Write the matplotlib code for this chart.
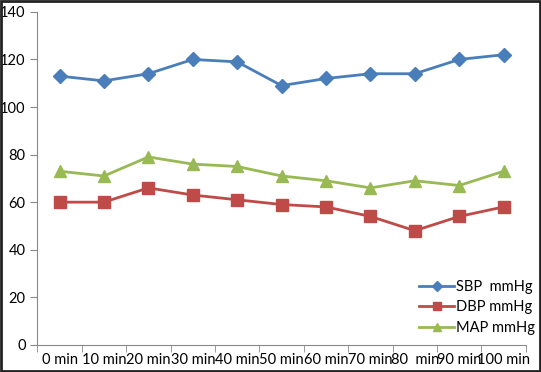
import numpy as np
import matplotlib.pyplot as plt

labels = ["0 min", "10 min", "20 min", "30 min", "40 min", "50 min",
          "60 min", "70 min", "80  min", "90 min", "100 min"]
sbp = [113, 111, 114, 120, 119, 109, 112, 114, 114, 120, 122]
dbp = [60, 60, 66, 63, 61, 59, 58, 54, 48, 54, 58]
mapv = [73, 71, 79, 76, 75, 71, 69, 66, 69, 67, 73]

plt.rcParams['font.family'] = ['Lato', 'DejaVu Sans']

fig = plt.figure(figsize=(5.41, 3.72), dpi=100)
ax = fig.add_axes([0.069, 0.073, 0.903, 0.895])

x = np.arange(len(labels))
ax.plot(x, sbp, color='#4a7ebb', marker='D', markersize=7, linewidth=2, label='SBP  mmHg')
ax.plot(x, dbp, color='#be4b48', marker='s', markersize=8, linewidth=2, label='DBP mmHg')
ax.plot(x, mapv, color='#98b954', marker='^', markersize=8, linewidth=2, label='MAP mmHg')

ax.set_xlim(-0.5, len(labels) - 0.5)
ax.set_ylim(0, 140)
ax.set_yticks(range(0, 141, 20))
ax.set_xticks(x)
ax.set_xticklabels(labels)
ax.set_xticks(np.arange(-0.5, len(labels), 1), minor=True)
ax.tick_params(axis='x', which='major', length=0, labelsize=10.5, pad=6)
ax.tick_params(axis='x', which='minor', length=5, color='#888888', direction='out')
ax.tick_params(axis='y', length=5, color='#888888', labelsize=10.5, direction='out')

for s in ['top', 'right']:
    ax.spines[s].set_visible(False)
for s in ['left', 'bottom']:
    ax.spines[s].set_color('#888888')

ax.legend(loc='lower right', bbox_to_anchor=(1.045, -0.01), frameon=False, fontsize=10.5,
          handlelength=2.4, handletextpad=0.1, labelspacing=0.45, markerscale=0.8)

# border round the whole picture
fig.patches.append(plt.Rectangle((0.002, 0.003), 0.996, 0.994, transform=fig.transFigure,
                                 fill=False, edgecolor='#222222', linewidth=2))

plt.savefig('out.png', dpi=100)
